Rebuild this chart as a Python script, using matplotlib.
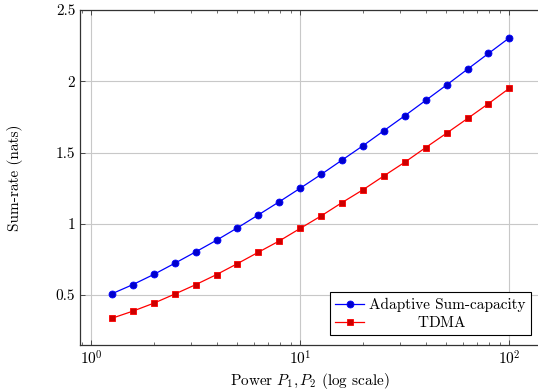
import matplotlib
matplotlib.use("Agg")
import matplotlib.pyplot as plt
from matplotlib.ticker import NullFormatter, LogLocator

# data
power = [1.26, 1.58, 2.0, 2.51, 3.16, 3.98, 5.01, 6.31, 7.94, 10,
         12.6, 15.8, 20.0, 25.1, 31.6, 39.8, 50.1, 63.1, 79.4, 100]
adaptive = [0.510, 0.573, 0.646, 0.723, 0.803, 0.885, 0.972, 1.063, 1.155, 1.250,
            1.347, 1.446, 1.549, 1.653, 1.758, 1.866, 1.974, 2.085, 2.195, 2.305]
tdma = [0.338, 0.387, 0.444, 0.507, 0.573, 0.644, 0.721, 0.801, 0.880, 0.968,
        1.056, 1.148, 1.240, 1.336, 1.432, 1.535, 1.636, 1.739, 1.843, 1.951]
yticks = [0.5, 1, 1.5, 2, 2.5]
ytick_labels = ["0.5", "1", "1.5", "2", "2.5"]

plt.rcParams["font.family"] = "cmr10"
plt.rcParams["mathtext.fontset"] = "cm"
plt.rcParams["axes.unicode_minus"] = False
plt.rcParams["axes.formatter.use_mathtext"] = True
plt.rcParams["font.size"] = 11

fig = plt.figure(figsize=(5.38, 3.91), dpi=100)
ax = fig.add_axes([80 / 538, 1 - 345 / 391, 465 / 538, 335 / 391])

ax.plot(power, adaptive, color=(0, 0, 1), lw=0.9, marker="o", ms=5,
        mfc=(0, 0, 0.8), mec=(0, 0, 1), mew=0.6, label="Adaptive Sum-capacity")
ax.plot(power, tdma, color=(1, 0, 0), lw=0.9, marker="s", ms=5,
        mfc=(0.8, 0, 0), mec=(1, 0, 0), mew=0.6, label=r"$\hspace{3.6}$TDMA")

ax.set_xscale("log")
ax.set_xlim(0.885, 148)
ax.set_ylim(0.15, 2.5)
ax.set_yticks(yticks)
ax.set_yticklabels(ytick_labels)
ax.xaxis.set_minor_locator(LogLocator(base=10, subs=range(2, 10)))
ax.xaxis.set_minor_formatter(NullFormatter())

ax.grid(True, which="major", color="#c8c8c8", lw=0.8)
ax.set_axisbelow(True)
ax.tick_params(which="both", direction="in", top=True, right=False, color="#333333")
ax.tick_params(which="major", length=3.5, width=0.6)
ax.tick_params(which="minor", length=2.2, width=0.5)
for s in ax.spines.values():
    s.set_color("#333333")
    s.set_linewidth(0.9)
ax.spines["right"].set_visible(False)

ax.set_xlabel(r"Power $P_1, P_2$ (log scale)")
ax.set_ylabel("Sum-rate (nats)")
ax.xaxis.set_label_coords(0.495, -0.077)
ax.yaxis.set_label_coords(-0.123, 0.5)

leg = ax.legend(loc="lower right", bbox_to_anchor=(531.3 / 538, 1 - 335.3 / 391),
                bbox_transform=fig.transFigure, fancybox=False, edgecolor="black",
                framealpha=1, borderaxespad=0, handlelength=1.9, handletextpad=0.35,
                borderpad=0.35, labelspacing=0.2)
leg.get_frame().set_linewidth(0.8)

fig.savefig("out.png", dpi=100)
